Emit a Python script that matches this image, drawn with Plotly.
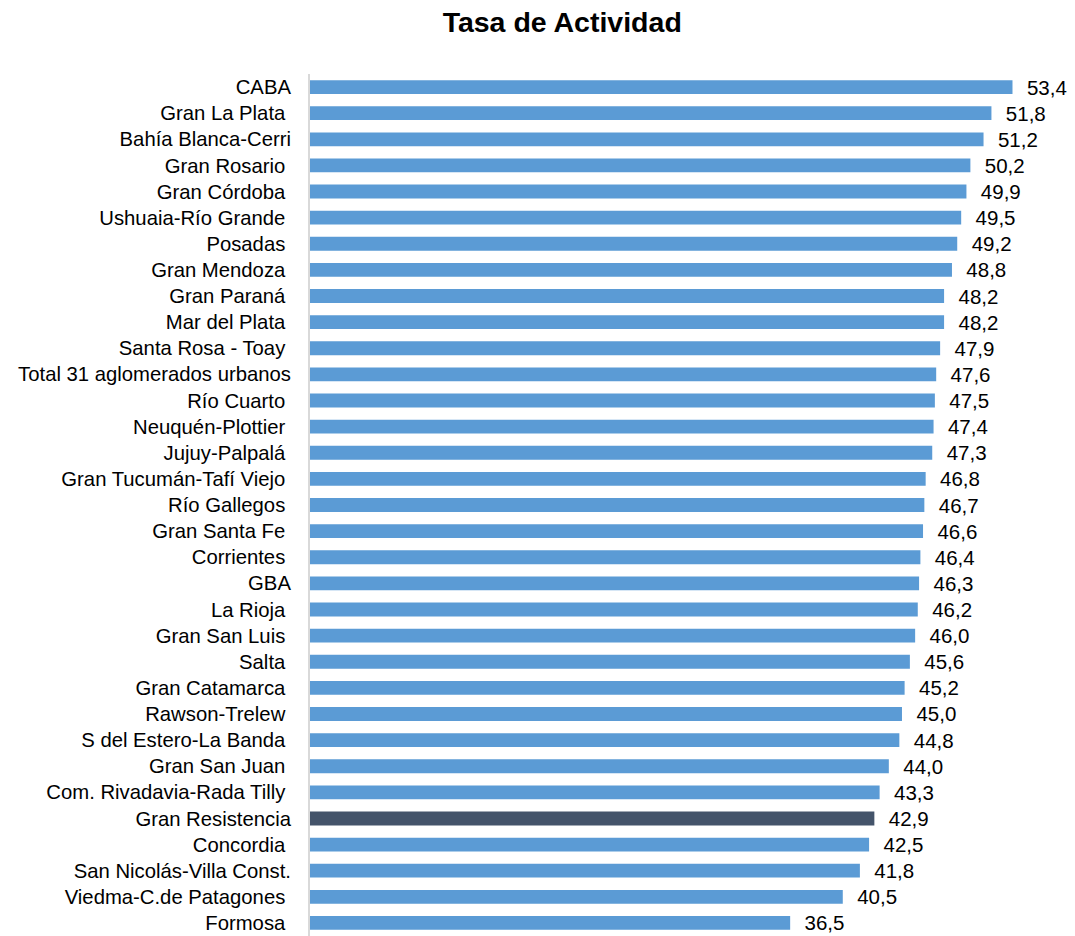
import plotly.graph_objects as go

categories = [
    "CABA", "Gran La Plata\u00a0", "Bahía Blanca-Cerri", "Gran Rosario\u00a0", "Gran Córdoba\u00a0",
    "Ushuaia-Río Grande\u00a0", "Posadas\u00a0", "Gran Mendoza\u00a0", "Gran Paraná\u00a0",
    "Mar del Plata\u00a0", "Santa Rosa - Toay\u00a0", "Total 31 aglomerados urbanos", "Río Cuarto\u00a0",
    "Neuquén-Plottier\u00a0", "Jujuy-Palpalá\u00a0", "Gran Tucumán-Tafí Viejo\u00a0", "Río Gallegos\u00a0",
    "Gran Santa Fe\u00a0", "Corrientes\u00a0", "GBA", "La Rioja\u00a0", "Gran San Luis\u00a0", "Salta\u00a0",
    "Gran Catamarca\u00a0", "Rawson-Trelew\u00a0", "S del Estero-La Banda\u00a0", "Gran San Juan\u00a0",
    "Com. Rivadavia-Rada Tilly\u00a0", "Gran Resistencia", "Concordia\u00a0", "San Nicolás-Villa Const.",
    "Viedma-C.de Patagones\u00a0", "Formosa\u00a0",
]
values = [
    53.4, 51.8, 51.2, 50.2, 49.9, 49.5, 49.2, 48.8, 48.2, 48.2, 47.9, 47.6, 47.5, 47.4, 47.3,
    46.8, 46.7, 46.6, 46.4, 46.3, 46.2, 46.0, 45.6, 45.2, 45.0, 44.8, 44.0, 43.3, 42.9, 42.5,
    41.8, 40.5, 36.5,
]
highlight = "Gran Resistencia"

FONT = "Liberation Sans, Arial, sans-serif"
colors = ["#44546A" if c == highlight else "#5B9BD5" for c in categories]
labels = ["\u00a0\u00a0" + f"{v:.1f}".replace(".", ",") for v in values]

fig = go.Figure(go.Bar(
    x=values, y=categories, orientation="h",
    marker=dict(color=colors, line=dict(width=0)),
    text=labels, textposition="outside", cliponaxis=False, constraintext="none",
    textfont=dict(size=20.5, color="#000000", family=FONT),
    hoverinfo="x+y",
))

fig.update_layout(
    width=1075, height=936,
    paper_bgcolor="white", plot_bgcolor="white",
    margin=dict(l=310, r=2, t=74, b=0),
    bargap=0.47,
    showlegend=False,
    title=dict(text="<b>Tasa de Actividad</b>", x=0.523, xanchor="center", y=0.976, yanchor="middle",
               font=dict(size=28.5, color="#000000", family=FONT)),
    xaxis=dict(range=[0, 58], visible=False, showgrid=False, zeroline=False),
    yaxis=dict(autorange="reversed", showline=True, linecolor="#D9D9D9", linewidth=2,
               ticks="", showgrid=False, ticklabelstandoff=13,
               tickfont=dict(size=20.3, color="#000000", family=FONT)),
)

fig.write_html("out.html", config={"displayModeBar": False},
               post_script="document.body.style.margin='0';document.body.style.overflow='hidden';")
